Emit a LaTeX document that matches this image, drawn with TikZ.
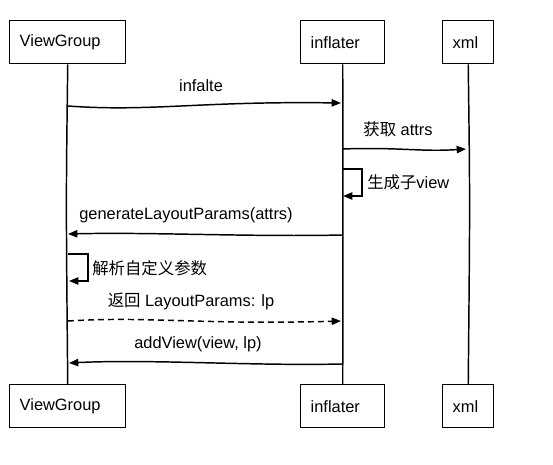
\documentclass[tikz,border=0pt]{standalone}
\usepackage{fontspec}
\setmainfont{Liberation Sans}
\newfontfamily\cjk{Noto Sans CJK SC}
\usetikzlibrary{arrows.meta}
\begin{document}
\begin{tikzpicture}[x=0.75pt,y=-0.75pt,
  every node/.style={font=\fontsize{12.3}{14}\selectfont},
  actor/.style={draw,line width=1.1pt,minimum height=32.25pt,inner xsep=7.5pt,align=left,anchor=north west},
  lifeline/.style={line width=1.1pt},
  msg/.style={line width=1.1pt,-{Triangle[length=7pt,width=5.5pt]}},
  retmsg/.style={msg,dash pattern=on 4.5pt off 3pt},
  lbl/.style={inner sep=0pt}]
\useasboundingbox (0,0) rectangle (553,464);
% top actors
\node[actor,text width=72pt] (vgT) at (9,20) {ViewGroup};
\node[actor,text width=48pt] (inT) at (300,20) {inflater};
\node[actor,text width=23.25pt] (xmT) at (442,20) {xml};
% bottom actors
\node[actor,text width=72pt] (vgB) at (9,384) {ViewGroup};
\node[actor,text width=48pt] (inB) at (300,384) {inflater};
\node[actor,text width=23.25pt] (xmB) at (442,384) {xml};
% lifelines
\draw[lifeline] (vgT.south) .. controls (66,200) .. (vgB.north);
\draw[lifeline] (inT.south) .. controls (343,200) .. (inB.north);
\draw[lifeline] (xmT.south) .. controls (470,200) .. (xmB.north);
% message points
\coordinate (a1) at (68,106);
\coordinate (b1) at (341,103);
\coordinate (a2) at (342,149);
\coordinate (b2) at (466,149);
\coordinate (a3) at (342,169);
\coordinate (a3r) at (362,169);
\coordinate (b3r) at (362,196);
\coordinate (b3) at (343,196);
\coordinate (a4) at (342,235);
\coordinate (b4) at (68,234);
\coordinate (a5) at (68,254);
\coordinate (a5r) at (88,254);
\coordinate (b5r) at (88,281);
\coordinate (b5) at (69,281);
\coordinate (a6) at (68,321);
\coordinate (b6) at (341,321);
\coordinate (a7) at (342,364);
\coordinate (b7) at (69,363);
% messages
\draw[msg] (a1) .. controls (150,112) and (200,101) .. (b1);
\node[lbl] (l1) at (201,86) {infalte};
\draw[msg] (a2) .. controls (400,147) and (420,152) .. (b2);
\node[lbl] (l2) at (398,129) {{\cjk 获取} attrs};
\draw[msg] (a3) -- (a3r) -- (b3r) -- (b3);
\node[lbl,anchor=west] (l3) at (367,182) {{\cjk 生成子}view};
\draw[msg] (a4) .. controls (250,237) and (150,232) .. (b4);
\node[lbl] (l4) at (186,215) {generateLayoutParams(attrs)};
\draw[msg] (a5) -- (a5r) -- (b5r) -- (b5);
\node[lbl,anchor=west] (l5) at (92,268) {\cjk 解析自定义参数};
\draw[retmsg] (a6) .. controls (150,316) and (200,325) .. (b6);
\node[lbl] (l6) at (191,301) {{\cjk 返回} LayoutParams: lp};
\draw[msg] (a7) .. controls (250,366) and (150,359) .. (b7);
\node[lbl] (l7) at (198,344) {addView(view, lp)};
\end{tikzpicture}
\end{document}
